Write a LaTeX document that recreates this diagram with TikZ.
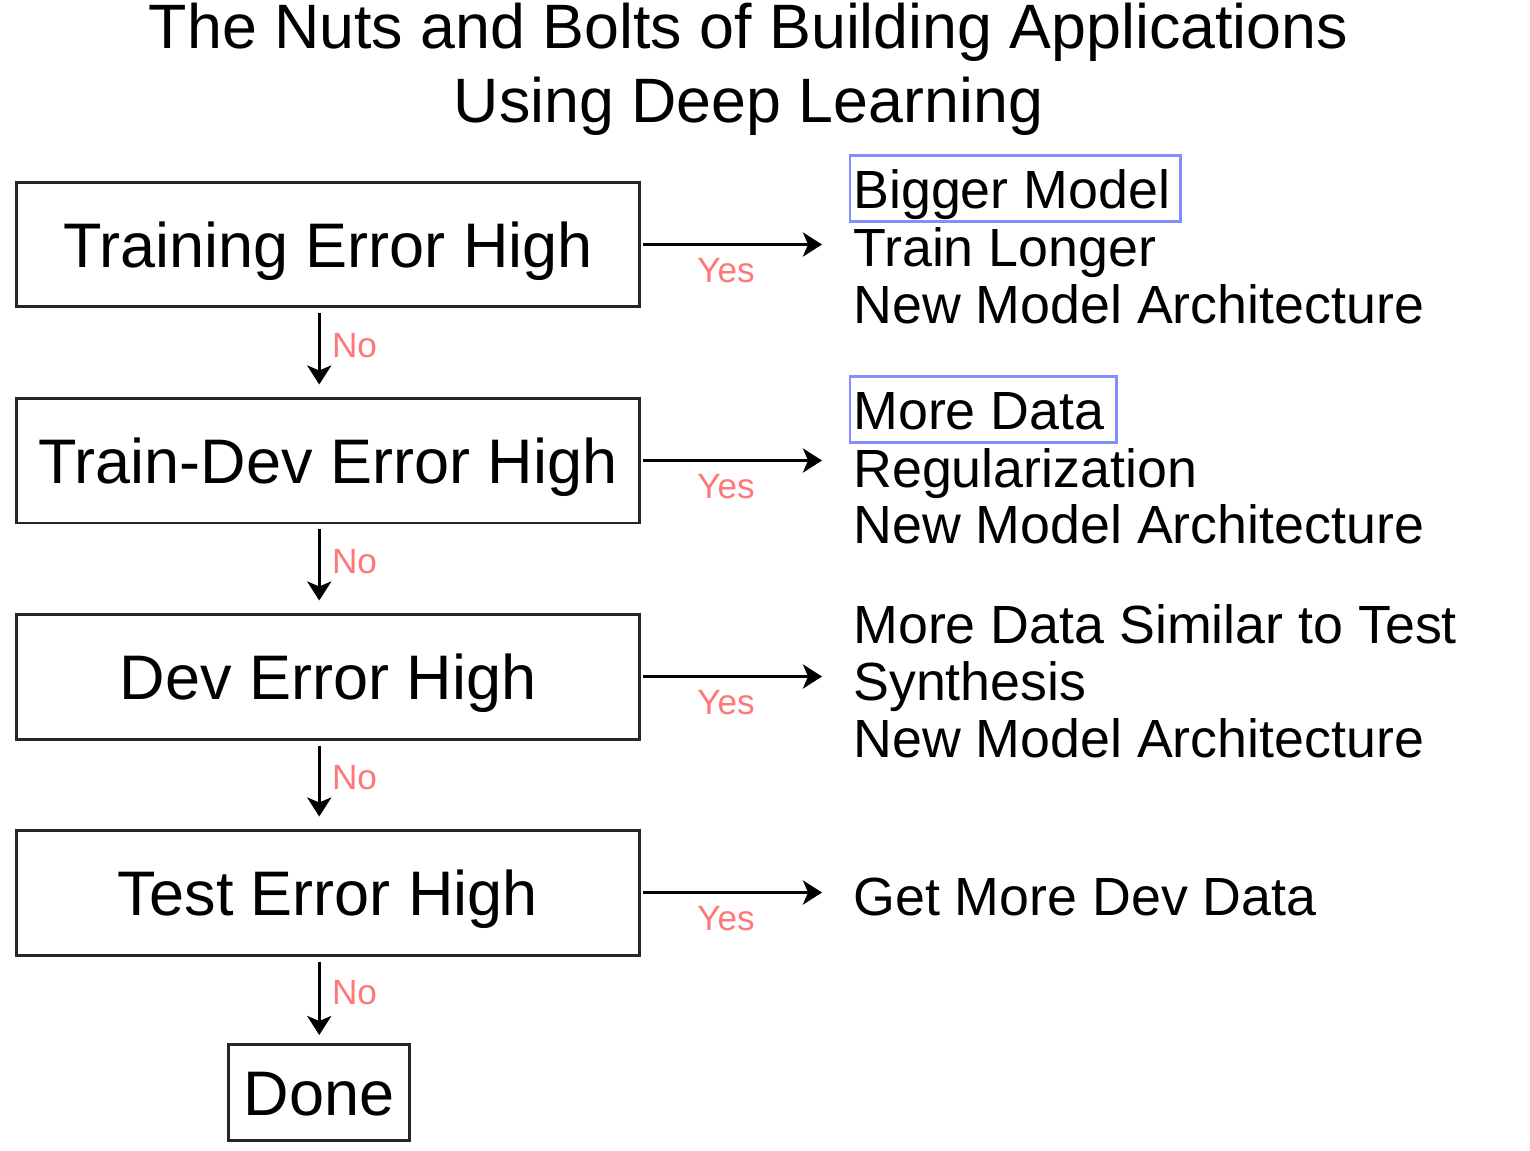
\documentclass[tikz,border=0pt]{standalone}
\usepackage{fontspec}
\setmainfont{Liberation Sans}
\usetikzlibrary{arrows.meta}

\definecolor{anscol}{RGB}{255,120,120}
\definecolor{hiblue}{RGB}{130,142,255}

\begin{document}
\begin{tikzpicture}[x=0.02cm, y=-0.02cm,
    errbox/.style={draw=black!85, line width=0.06cm, inner sep=0pt, minimum width=12.48cm, minimum height=2.5cm,
      text height=25.8pt, text depth=0pt, font=\fontsize{35.85}{40}\selectfont},
    flow/.style={-{Stealth[length=0.38cm, width=0.48cm, inset=0.1cm]}, line width=0.07cm},
    fix/.style={anchor=base west, inner sep=0pt, text height=22.9pt, text depth=7.6pt, font=\fontsize{30.6}{34}\selectfont},
    ans/.style={text=anscol, inner sep=0pt, font=\fontsize{20}{22}\selectfont},
    hilite/.style={draw=hiblue, line width=0.05cm}]
  \useasboundingbox (0,0) rectangle (1530,1150);

  % title
  \node[anchor=base, inner sep=0pt, font=\fontsize{35.7}{42}\selectfont] (title1) at (748.5,48) {The Nuts and Bolts of Building Applications};
  \node[anchor=base, inner sep=0pt, font=\fontsize{35.7}{42}\selectfont] (title2) at (748.5,122) {Using Deep Learning};

  % checks
  \node[errbox] (train) at (328,244.5) {Training Error High};
  \node[errbox] (traindev) at (328,460.5) {Train-Dev Error High};
  \node[errbox] (dev) at (328,676.5) {Dev Error High};
  \node[errbox] (test) at (328,892.5) {Test Error High};
  \node[errbox, minimum width=3.63cm, minimum height=1.92cm] (done) at (319.25,1092.5) {Done};

  % fixes
  \node[fix] (bigger) at (853,208) {Bigger Model};
  \node[fix] (longer) at (853,266) {Train Longer};
  \node[fix] (arch1) at (853,323) {New Model Architecture};
  \node[fix] (moredata) at (853,429) {More Data};
  \node[fix] (regul) at (853,487) {Regularization};
  \node[fix] (arch2) at (853,543) {New Model Architecture};
  \node[fix] (similar) at (853,643) {More Data Similar to Test};
  \node[fix] (synth) at (853,700) {Synthesis};
  \node[fix] (arch3) at (853,757) {New Model Architecture};
  \node[fix] (devdata) at (853,915) {Get More Dev Data};

  \draw[hilite] ([xshift=-0.06cm]bigger.south west) rectangle ([xshift=0.2cm, yshift=0.24cm]bigger.north east);
  \draw[hilite] ([xshift=-0.06cm]moredata.south west) rectangle ([xshift=0.24cm, yshift=0.24cm]moredata.north east);

  % yes
  \draw[flow, shorten <=0.04cm, shorten >=0.62cm] (train.east) -- node[ans, anchor=base, pos=0.4, yshift=-0.75cm] {Yes} (train.east -| longer.west);
  \draw[flow, shorten <=0.04cm, shorten >=0.62cm] (traindev.east) -- node[ans, anchor=base, pos=0.4, yshift=-0.75cm] {Yes} (traindev.east -| regul.west);
  \draw[flow, shorten <=0.04cm, shorten >=0.62cm] (dev.east) -- node[ans, anchor=base, pos=0.4, yshift=-0.75cm] {Yes} (dev.east -| synth.west);
  \draw[flow, shorten <=0.04cm, shorten >=0.62cm] (test.east) -- node[ans, anchor=base, pos=0.4, yshift=-0.75cm] {Yes} (test.east -| devdata.west);

  % no
  \draw[flow, shorten <=0.1cm, shorten >=0.24cm] (train.south -| done) -- node[ans, anchor=base west, xshift=0.22cm, yshift=-0.1cm] {No} (traindev.north -| done);
  \draw[flow, shorten <=0.1cm, shorten >=0.24cm] (traindev.south -| done) -- node[ans, anchor=base west, xshift=0.22cm, yshift=-0.1cm] {No} (dev.north -| done);
  \draw[flow, shorten <=0.1cm, shorten >=0.24cm] (dev.south -| done) -- node[ans, anchor=base west, xshift=0.22cm, yshift=-0.1cm] {No} (test.north -| done);
  \draw[flow, shorten <=0.1cm, shorten >=0.16cm] (test.south -| done) -- node[ans, anchor=base west, xshift=0.22cm, yshift=-0.1cm] {No} (done.north);
\end{tikzpicture}
\end{document}
